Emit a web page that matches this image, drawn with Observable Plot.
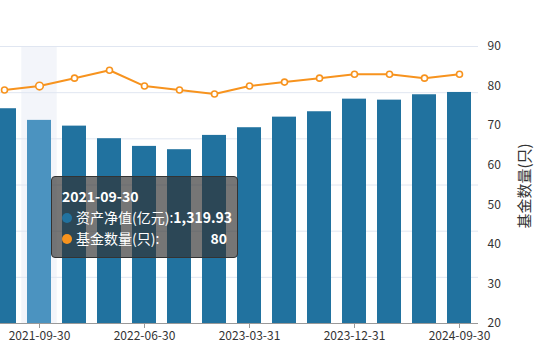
<!DOCTYPE html>
<html>
<head>
<meta charset="utf-8">
<script src="https://cdn.jsdelivr.net/npm/d3@7"></script>
<script src="https://cdn.jsdelivr.net/npm/@observablehq/plot@0.6"></script>
<style>
  body { margin: 0; background: #fff; }
  #wrap { position: relative; width: 550px; height: 361px; overflow: hidden;
          font-family: "Microsoft YaHei", "Noto Sans CJK SC", sans-serif; }
  #wrap svg { position: absolute; left: 0; top: 0; }
  #tip { position: absolute; left: 51px; top: 176px; width: 187px; height: 82px; box-sizing: border-box;
         background: rgba(50,50,50,0.67); border: 1px solid #333; border-radius: 4px;
         padding: 9px 10px 0 10px; color: #fff; font-size: 14px; line-height: 21px; }
  #tip .t { font-weight: bold; }
  #tip .row { display: flex; justify-content: space-between; align-items: center; white-space: nowrap; }
  #tip .dot { display: inline-block; width: 10px; height: 10px; border-radius: 5px; margin-right: 4px; vertical-align: middle; position: relative; top: -1px; }
  #tip b { font-weight: bold; }
</style>
</head>
<body>
<div id="wrap"></div>
<script>
// Data
const quarters = ["2021-06-30","2021-09-30","2021-12-31","2022-03-31","2022-06-30","2022-09-30","2022-12-31",
                  "2023-03-31","2023-06-30","2023-09-30","2023-12-31","2024-03-31","2024-06-30","2024-09-30"];
const netAssets = [1395.6, 1319.93, 1282.6, 1200.8, 1150.9, 1129.4, 1222.3, 1272.2, 1341.0, 1376.0, 1457.9, 1451.4, 1486.4, 1501.4];
const fundCount = [79, 80, 82, 84, 80, 79, 78, 80, 81, 82, 83, 83, 82, 83];
const xTickLabels = ["2021-09-30","2022-06-30","2023-03-31","2023-12-31","2024-09-30"];
const rightTicks = [20, 30, 40, 50, 60, 70, 80, 90];
const leftTicks = [0, 300, 600, 900, 1200, 1500, 1800];
const seriesNames = ["资产净值(亿元)", "基金数量(只)"];
const rightTitle = "基金数量(只)";
const highlighted = "2021-09-30";

const barColor = "#21729f", barHi = "#4b93c0", lineColor = "#f7931e";
const leftMax = 1800, rMin = 20, rMax = 90;
const toLeft = v => (v - rMin) / (rMax - rMin) * leftMax;
const fromLeft = y => Math.round(y / leftMax * (rMax - rMin) + rMin);

const data = quarters.map((q, i) => ({q, v: netAssets[i], c: fundCount[i]}));

const chart = Plot.plot({
  width: 550, height: 361,
  marginTop: 46, marginBottom: 38, marginLeft: 0, marginRight: 72,
  x: {type: "band", domain: quarters, range: [-16.9, 479.4], paddingInner: 0.32, paddingOuter: 0.16, axis: null},
  y: {domain: [0, leftMax], axis: null},
  style: {fontFamily: '"Microsoft YaHei","Noto Sans CJK SC",sans-serif', fontSize: "12px", background: "transparent", overflow: "hidden"},
  marks: [
    Plot.barY([highlighted], {x: d => d, y1: 0, y2: leftMax, fill: "#f3f5fa", insetLeft: -5.7, insetRight: -5.7}),
    Plot.ruleY(leftTicks.slice(1), {stroke: "#e0e6f1", strokeWidth: 1}),
    Plot.barY(data, {x: "q", y: "v", fill: d => d.q === highlighted ? barHi : barColor}),
    Plot.ruleY([0], {stroke: "#999", strokeWidth: 1}),
    Plot.axisX(xTickLabels, {anchor: "bottom", tickSize: 5, tickPadding: 3, stroke: "#999", fill: "#333", fontSize: 12, label: null}),
    Plot.line(data, {x: "q", y: d => toLeft(d.c), stroke: lineColor, strokeWidth: 2}),
    Plot.dot(data, {x: "q", y: d => toLeft(d.c), r: d => d.q === highlighted ? 4.5 : 2.8,
                    fill: "#fff", stroke: lineColor, strokeWidth: 1.6}),
    Plot.axisY(rightTicks.map(toLeft), {anchor: "right", tickSize: 0, tickPadding: 9,
                    tickFormat: fromLeft, label: null, fill: "#333", fontSize: 12}),
    Plot.text([rightTitle], {frameAnchor: "right", dx: 47, dy: 1, rotate: -90, textAnchor: "middle", fontSize: 15, fill: "#333"})
  ]
});
const wrap = document.getElementById("wrap");
wrap.appendChild(chart);

// Tooltip
const hi = data.find(d => d.q === highlighted);
const tip = document.createElement("div");
tip.id = "tip";
tip.innerHTML =
  `<div class="t">${hi.q}</div>` +
  `<div class="row"><span><span class="dot" style="background:${barColor}"></span>${seriesNames[0]}:<b>${d3.format(",.2f")(hi.v)}</b></span></div>` +
  `<div class="row"><span><span class="dot" style="background:${lineColor}"></span>${seriesNames[1]}:</span><b>${hi.c}</b></div>`;
wrap.appendChild(tip);
</script>
</body>
</html>
